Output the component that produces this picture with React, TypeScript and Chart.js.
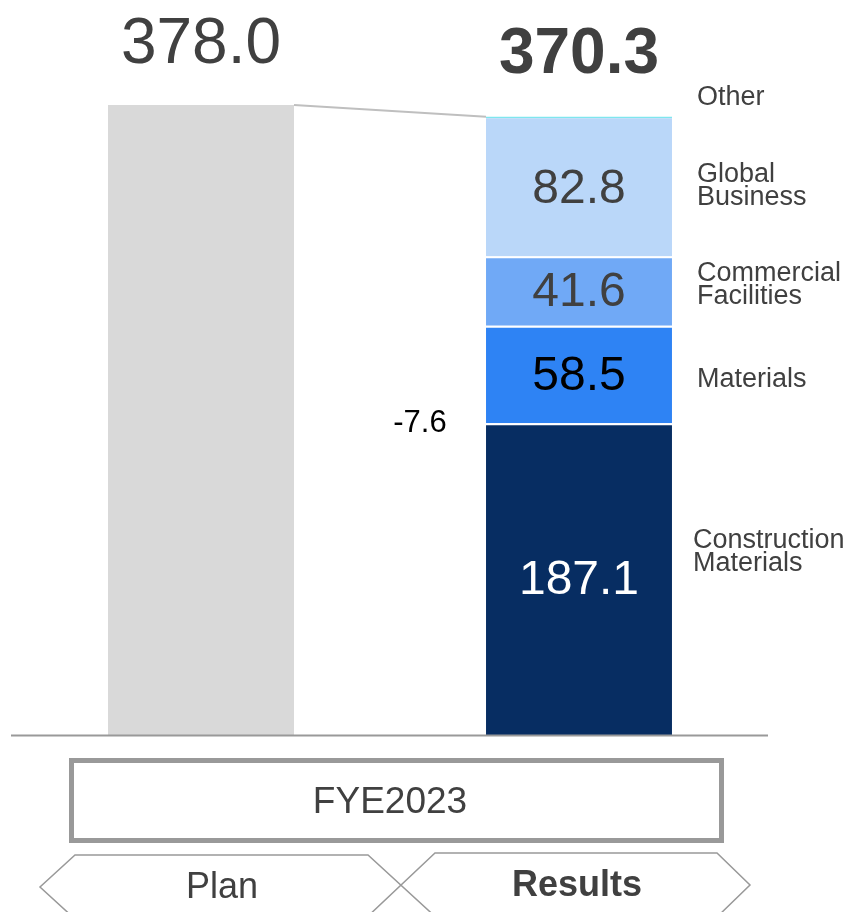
import React, { useEffect, useRef } from "react";
import { Chart, registerables } from "chart.js";

Chart.register(...registerables);

// ---- Data ----
const categories = ["Plan", "Results"];
const planValues = [378.0, null];
const constructionMaterials = [null, 187.1];
const materials = [null, 58.5];
const commercialFacilities = [null, 41.6];
const globalBusiness = [null, 82.8];
const other = [null, 0.3];
const totalLabels = ["378.0", "370.3"];
const differenceLabel = "-7.6";
const periodLabel = "FYE2023";
const segmentLegend = [
  { lines: ["Other"], y: [98] },
  { lines: ["Global", "Business"], y: [175, 198] },
  { lines: ["Commercial", "Facilities"], y: [274, 297] },
  { lines: ["Materials"], y: [380] },
  { lines: ["Construction", "Materials"], y: [541, 564], x: 693 },
];

const FONT = '"Liberation Sans", Arial, sans-serif';
const TEXT = "#404040";

const overlayPlugin = {
  id: "overlay",
  afterDatasetsDraw(chart: any) {
    const ctx = chart.ctx;
    const area = chart.chartArea;
    ctx.save();

    // baseline axis
    ctx.strokeStyle = "#999999";
    ctx.lineWidth = 2;
    ctx.beginPath();
    ctx.moveTo(area.left - 1, area.bottom + 0.5);
    ctx.lineTo(area.right, area.bottom + 0.5);
    ctx.stroke();

    const planEl = chart.getDatasetMeta(0).data[0];
    const topMeta = chart.getDatasetMeta(5).data[1];
    const resEls = [1, 2, 3, 4].map((i) => chart.getDatasetMeta(i).data[1]);

    // connector line
    ctx.strokeStyle = "#bfbfbf";
    ctx.lineWidth = 2;
    ctx.beginPath();
    ctx.moveTo(planEl.x + planEl.width / 2, planEl.y);
    ctx.lineTo(topMeta.x - topMeta.width / 2, topMeta.y);
    ctx.stroke();

    // totals
    ctx.fillStyle = TEXT;
    ctx.textAlign = "center";
    ctx.textBaseline = "alphabetic";
    ctx.font = `64px ${FONT}`;
    ctx.fillText(totalLabels[0], planEl.x, planEl.y - 42);
    ctx.font = `bold 64px ${FONT}`;
    ctx.fillText(totalLabels[1], topMeta.x, topMeta.y - 44);

    // segment values
    const segData = [constructionMaterials, materials, commercialFacilities, globalBusiness];
    const segColors = ["#ffffff", "#000000", TEXT, TEXT];
    ctx.textBaseline = "middle";
    ctx.font = `48px ${FONT}`;
    resEls.forEach((el: any, i: number) => {
      const v = segData[i][1] as number;
      ctx.fillStyle = segColors[i];
      ctx.fillText(v.toFixed(1), el.x, (el.y + el.base) / 2 + 2);
    });

    // legend labels on right
    ctx.fillStyle = TEXT;
    ctx.textAlign = "left";
    ctx.font = `27px ${FONT}`;
    segmentLegend.forEach((s) => {
      s.lines.forEach((l, i) => ctx.fillText(l, s.x ?? 697, s.y[i]));
    });

    // difference
    ctx.fillStyle = "#000000";
    ctx.textAlign = "center";
    ctx.font = `31px ${FONT}`;
    ctx.fillText(differenceLabel, 420, 423);

    // period box
    ctx.strokeStyle = "#999999";
    ctx.lineWidth = 5;
    ctx.strokeRect(71.5, 760.5, 650, 80);
    ctx.fillStyle = TEXT;
    ctx.font = `37px ${FONT}`;
    ctx.fillText(periodLabel, 390, 803);

    // tabs
    ctx.strokeStyle = "#999999";
    ctx.lineWidth = 1.5;
    ctx.beginPath();
    ctx.moveTo(440, 921);
    ctx.lineTo(368, 855);
    ctx.lineTo(75, 855);
    ctx.lineTo(40, 887);
    ctx.lineTo(76, 920);
    ctx.stroke();
    ctx.beginPath();
    ctx.moveTo(365, 919);
    ctx.lineTo(435, 853);
    ctx.lineTo(717, 853);
    ctx.lineTo(750, 885);
    ctx.lineTo(717, 917);
    ctx.stroke();

    ctx.fillStyle = TEXT;
    ctx.font = `36px ${FONT}`;
    ctx.fillText(categories[0], 222, 888);
    ctx.font = `bold 36px ${FONT}`;
    ctx.fillText(categories[1], 577, 886);

    ctx.restore();
  },
};

export default function App() {
  const ref = useRef<HTMLCanvasElement>(null);
  useEffect(() => {
    if (!ref.current) return;
    const segBorder = { top: 2, right: 0, bottom: 0, left: 0 };
    const common = {
      barPercentage: 0.492,
      categoryPercentage: 1,
      borderSkipped: false,
      borderColor: "#ffffff",
    };
    const chart = new Chart(ref.current, {
      type: "bar",
      data: {
        labels: categories,
        datasets: [
          { label: "Plan", data: planValues, backgroundColor: "#d9d9d9", borderWidth: 0, ...common },
          { label: "Construction Materials", data: constructionMaterials, backgroundColor: "#072d62", borderWidth: segBorder, ...common },
          { label: "Materials", data: materials, backgroundColor: "#2e83f4", borderWidth: segBorder, ...common },
          { label: "Commercial Facilities", data: commercialFacilities, backgroundColor: "#70a9f6", borderWidth: segBorder, ...common },
          { label: "Global Business", data: globalBusiness, backgroundColor: "#bad7f9", borderWidth: 0, ...common },
          { label: "Other", data: other, backgroundColor: "#7fe6ee", borderWidth: 0, minBarLength: 1.5, ...common },
        ] as any,
      },
      options: {
        responsive: false,
        animation: false,
        layout: { padding: { left: 12, right: 82, top: 35, bottom: 177 } },
        plugins: { legend: { display: false }, tooltip: { enabled: false } },
        scales: {
          x: { stacked: true, display: false },
          y: { stacked: true, display: false, min: 0, max: 420 },
        },
      },
      plugins: [overlayPlugin],
    });
    return () => chart.destroy();
  }, []);
  return (
    <div style={{ position: "fixed", left: 0, top: 0, width: 850, height: 912, background: "#fff" }}>
      <canvas ref={ref} width={850} height={912} style={{ display: "block" }} />
    </div>
  );
}
